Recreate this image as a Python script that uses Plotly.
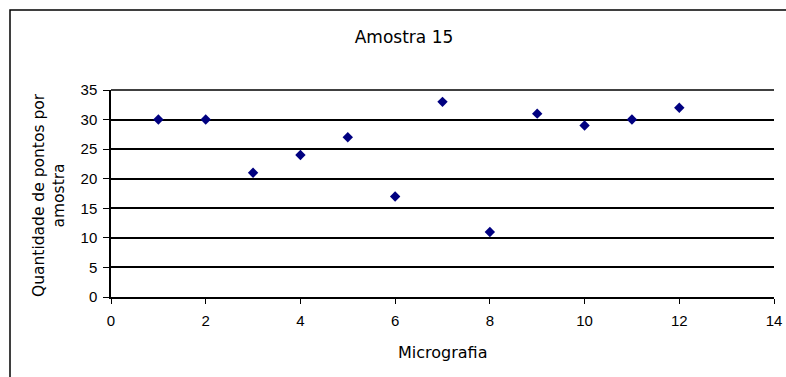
import plotly.graph_objects as go

# Micrografia number vs quantidade de pontos
micrografia = [1, 2, 3, 4, 5, 6, 7, 8, 9, 10, 11, 12]
pontos = [30, 30, 21, 24, 27, 17, 33, 11, 31, 29, 30, 32]

x_ticks = [0, 2, 4, 6, 8, 10, 12, 14]
y_ticks = [0, 5, 10, 15, 20, 25, 30, 35]

W, H = 786, 377
L, R, T, B = 111, 12, 90, 80
pw, ph = W - L - R, H - T - B
WIDE = "DejaVu Sans, Verdana, sans-serif"


def px(x):
    return (x - L) / pw


def py(y):
    return (H - B - y) / ph


fig = go.Figure()
fig.add_trace(go.Scatter(
    x=micrografia, y=pontos, mode="markers",
    marker=dict(symbol="diamond", size=8, color="#000080"),
    showlegend=False,
))

# outer chart border (left and top visible, rest off-screen)
fig.add_shape(type="rect", xref="paper", yref="paper",
              x0=px(10), x1=px(W + 20), y0=py(H + 20), y1=py(10),
              line=dict(color="black", width=1.5), layer="below")
# top gridline (plotly hides the one on the plot edge)
fig.add_shape(type="line", xref="paper", yref="paper", x0=0, x1=1,
              y0=1, y1=1, line=dict(color="black", width=1.5))

# axis titles
fig.add_annotation(text="Micrografia", xref="paper", yref="paper",
                   x=px(442), y=py(352), showarrow=False,
                   xanchor="center", yanchor="middle",
                   font=dict(family=WIDE, size=16))
fig.add_annotation(text="Quantidade de pontos por<br>amostra", xref="paper", yref="paper",
                   x=px(49), y=py(195), showarrow=False, textangle=-90,
                   xanchor="center", yanchor="middle",
                   font=dict(family=WIDE, size=15.5))

fig.update_xaxes(range=[0, 14], tickvals=x_ticks, ticks="outside", ticklen=5,
                 tickcolor="black", showline=True, linecolor="black", linewidth=1.5,
                 showgrid=False, zeroline=False, automargin=False,
                 ticklabelstandoff=4,
                 tickfont=dict(size=15, color="black"))
fig.update_yaxes(range=[0, 35], tickvals=y_ticks, ticks="outside", ticklen=6,
                 tickcolor="black", showline=True, linecolor="black", linewidth=1.5,
                 showgrid=True, gridcolor="black", gridwidth=1.5, zeroline=False,
                 automargin=False, ticklabelstandoff=3,
                 tickfont=dict(size=15, color="black"))

fig.update_layout(
    width=W, height=H,
    margin=dict(l=L, r=R, t=T, b=B),
    paper_bgcolor="white", plot_bgcolor="white",
    font=dict(family="Liberation Sans, Arial, sans-serif", size=12, color="black"),
    title=dict(text="Amostra 15", x=404 / W, xanchor="center",
               y=1 - 37 / H, yanchor="middle",
               font=dict(family=WIDE, size=17)),
)

fig.write_html("out.html", config={"displayModeBar": False},
               post_script="document.body.style.margin='0';document.body.style.overflow='hidden';")
